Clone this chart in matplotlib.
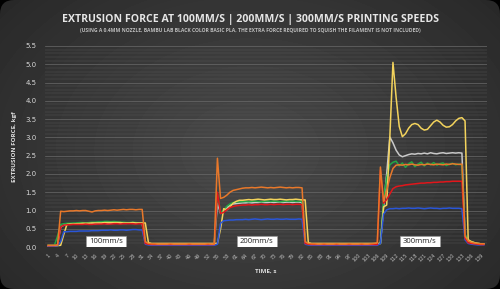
import numpy as np
import matplotlib.pyplot as plt
from matplotlib.patches import FancyBboxPatch, Rectangle

# one sample per second
time_s = list(range(1, 141))

orange = [0.05, 0.05, 0.05, 0.05,
          0.98, 0.97, 0.98, 0.99, 0.99, 1.00, 0.99, 1.00, 1.00, 0.98, 0.96, 0.99, 1.00, 1.00,
          1.01, 1.00, 1.01, 1.02, 1.01, 1.02, 1.03, 1.02, 1.03, 1.03, 1.02, 1.03, 1.03,
          0.15, 0.10, 0.09, 0.09, 0.08, 0.08, 0.08, 0.08, 0.09, 0.08, 0.08, 0.08, 0.08, 0.08,
          0.09, 0.08, 0.08, 0.08, 0.08, 0.08, 0.09, 0.08, 0.08,
          2.43, 1.33, 1.36, 1.42, 1.50, 1.55, 1.57, 1.59, 1.61, 1.62, 1.62, 1.63, 1.62, 1.63,
          1.64, 1.63, 1.62, 1.63, 1.62, 1.63, 1.64, 1.63, 1.62, 1.63, 1.62, 1.63, 1.63, 1.62,
          0.15, 0.10, 0.09, 0.09, 0.08, 0.08, 0.09, 0.08, 0.08, 0.08, 0.09, 0.08, 0.08, 0.08,
          0.09, 0.08, 0.08, 0.08, 0.09, 0.08, 0.08, 0.09, 0.10, 0.12,
          2.19, 1.25, 1.55, 1.90, 2.15, 2.24, 2.25, 2.24, 2.26, 2.25, 2.27, 2.25, 2.24, 2.26,
          2.25, 2.27, 2.26, 2.25, 2.27, 2.26, 2.25, 2.27, 2.26, 2.28, 2.27, 2.26, 2.27,
          0.30, 0.17, 0.13, 0.11, 0.10, 0.09, 0.09]

green = [0.05, 0.05, 0.05, 0.30,
         0.62, 0.64, 0.65, 0.65, 0.66, 0.66, 0.67, 0.67, 0.66, 0.67, 0.68, 0.68, 0.69, 0.69,
         0.70, 0.70, 0.69, 0.70, 0.69, 0.68, 0.68, 0.67, 0.67, 0.68, 0.67, 0.66, 0.66,
         0.12, 0.10, 0.09, 0.09, 0.09, 0.09, 0.09, 0.09, 0.09, 0.09, 0.09, 0.09, 0.09, 0.09,
         0.09, 0.09, 0.09, 0.09, 0.09, 0.09, 0.09, 0.09, 0.09,
         1.45, 0.95, 1.00, 1.12, 1.18, 1.22, 1.23, 1.24, 1.24, 1.25, 1.24, 1.25, 1.26, 1.25,
         1.24, 1.25, 1.26, 1.25, 1.26, 1.25, 1.24, 1.25, 1.26, 1.25, 1.26, 1.25, 1.25, 1.26,
         0.13, 0.10, 0.09, 0.09, 0.09, 0.09, 0.09, 0.09, 0.09, 0.09, 0.09, 0.09, 0.09, 0.09,
         0.09, 0.09, 0.09, 0.09, 0.09, 0.09, 0.09, 0.09, 0.09, 0.09,
         0.10, 1.30, 1.90, 2.25, 2.32, 2.35, 2.22, 2.30, 2.18, 2.28, 2.33, 2.20, 2.27, 2.32,
         2.22, 2.30, 2.25, 2.31, 2.24, 2.28, 2.30, 2.23, 2.27, 2.29, 2.25, 2.27, 2.24,
         0.35, 0.20, 0.15, 0.12, 0.10, 0.09, 0.08]

yellow = [0.03, 0.03, 0.03, 0.04,
          0.05, 0.35, 0.62, 0.63, 0.63, 0.64, 0.64, 0.65, 0.65, 0.65, 0.66, 0.66, 0.66, 0.66,
          0.67, 0.67, 0.67, 0.67, 0.67, 0.67, 0.66, 0.66, 0.66, 0.67, 0.66, 0.66, 0.66,
          0.66, 0.12, 0.10, 0.10, 0.10, 0.10, 0.10, 0.10, 0.10, 0.10, 0.10, 0.10, 0.10, 0.10,
          0.10, 0.10, 0.10, 0.10, 0.10, 0.10, 0.10, 0.10, 0.10,
          0.10, 0.50, 1.05, 1.02, 1.10, 1.20, 1.25, 1.28, 1.28, 1.29, 1.30, 1.29, 1.30, 1.31,
          1.30, 1.29, 1.30, 1.31, 1.30, 1.30, 1.31, 1.30, 1.29, 1.30, 1.30, 1.31, 1.30, 1.29,
          1.29, 0.12, 0.10, 0.10, 0.10, 0.10, 0.10, 0.10, 0.10, 0.10, 0.10, 0.10, 0.10, 0.10,
          0.10, 0.10, 0.10, 0.10, 0.10, 0.10, 0.10, 0.10, 0.10, 0.10,
          0.10, 1.10, 1.15, 3.00, 5.05, 4.10, 3.30, 3.02, 3.10, 3.25, 3.35, 3.38, 3.35, 3.25,
          3.20, 3.22, 3.32, 3.42, 3.47, 3.42, 3.33, 3.28, 3.29, 3.35, 3.45, 3.52, 3.54,
          3.45, 0.20, 0.15, 0.12, 0.10, 0.09, 0.08]

gray = [0.04, 0.04, 0.04, 0.06,
        0.55, 0.60, 0.62, 0.63, 0.63, 0.63, 0.64, 0.64, 0.64, 0.63, 0.64, 0.64, 0.65, 0.65,
        0.65, 0.64, 0.65, 0.65, 0.66, 0.65, 0.65, 0.65, 0.66, 0.65, 0.65, 0.66, 0.65,
        0.12, 0.09, 0.08, 0.08, 0.08, 0.08, 0.08, 0.08, 0.08, 0.08, 0.08, 0.08, 0.08, 0.08,
        0.08, 0.08, 0.08, 0.08, 0.08, 0.08, 0.08, 0.08, 0.08,
        1.20, 0.92, 0.98, 1.08, 1.15, 1.18, 1.19, 1.20, 1.21, 1.21, 1.22, 1.21, 1.22, 1.22,
        1.23, 1.22, 1.22, 1.23, 1.22, 1.23, 1.23, 1.22, 1.23, 1.23, 1.22, 1.23, 1.23, 1.22,
        0.12, 0.09, 0.08, 0.08, 0.08, 0.08, 0.08, 0.08, 0.08, 0.08, 0.08, 0.08, 0.08, 0.08,
        0.08, 0.08, 0.08, 0.08, 0.08, 0.08, 0.08, 0.08, 0.08, 0.08,
        0.10, 1.10, 2.00, 3.01, 2.85, 2.65, 2.52, 2.47, 2.50, 2.53, 2.55, 2.54, 2.56, 2.55,
        2.57, 2.55, 2.58, 2.56, 2.55, 2.57, 2.58, 2.56, 2.57, 2.58, 2.57, 2.58, 2.57,
        0.30, 0.18, 0.14, 0.12, 0.10, 0.09, 0.08]

red = [0.04, 0.04, 0.04, 0.06,
       0.55, 0.60, 0.61, 0.61, 0.62, 0.62, 0.62, 0.62, 0.63, 0.62, 0.62, 0.63, 0.63, 0.63,
       0.64, 0.63, 0.63, 0.64, 0.64, 0.63, 0.64, 0.64, 0.64, 0.64, 0.63, 0.64, 0.64,
       0.10, 0.08, 0.07, 0.07, 0.07, 0.07, 0.07, 0.07, 0.07, 0.07, 0.07, 0.07, 0.07, 0.07,
       0.07, 0.07, 0.07, 0.07, 0.07, 0.07, 0.07, 0.07, 0.07,
       1.50, 0.92, 0.95, 1.02, 1.08, 1.11, 1.13, 1.14, 1.15, 1.15, 1.16, 1.15, 1.16, 1.16,
       1.17, 1.16, 1.16, 1.17, 1.16, 1.17, 1.17, 1.16, 1.17, 1.17, 1.16, 1.17, 1.17, 1.16,
       0.10, 0.08, 0.07, 0.07, 0.07, 0.07, 0.07, 0.07, 0.07, 0.07, 0.07, 0.07, 0.07, 0.07,
       0.07, 0.07, 0.07, 0.07, 0.07, 0.07, 0.07, 0.07, 0.07, 0.07,
       2.10, 1.20, 1.30, 1.45, 1.60, 1.65, 1.67, 1.68, 1.70, 1.71, 1.72, 1.73, 1.74, 1.75,
       1.75, 1.76, 1.76, 1.77, 1.77, 1.78, 1.78, 1.79, 1.79, 1.80, 1.80, 1.80, 1.80,
       0.25, 0.12, 0.10, 0.09, 0.08, 0.07, 0.07]

blue = [0.03, 0.03, 0.03, 0.04,
        0.15, 0.42, 0.42, 0.43, 0.43, 0.43, 0.44, 0.44, 0.44, 0.44, 0.45, 0.45, 0.45, 0.46,
        0.46, 0.46, 0.47, 0.46, 0.46, 0.47, 0.47, 0.46, 0.47, 0.48, 0.48, 0.47, 0.47,
        0.08, 0.06, 0.05, 0.05, 0.05, 0.05, 0.05, 0.05, 0.05, 0.05, 0.05, 0.05, 0.05, 0.05,
        0.05, 0.05, 0.05, 0.05, 0.05, 0.05, 0.05, 0.05, 0.05,
        0.08, 0.65, 0.72, 0.73, 0.74, 0.74, 0.75, 0.75, 0.75, 0.76, 0.75, 0.76, 0.77, 0.76,
        0.75, 0.76, 0.77, 0.76, 0.76, 0.77, 0.76, 0.76, 0.77, 0.76, 0.76, 0.76, 0.77, 0.76,
        0.08, 0.06, 0.05, 0.05, 0.05, 0.05, 0.05, 0.05, 0.05, 0.05, 0.05, 0.05, 0.05, 0.05,
        0.05, 0.05, 0.05, 0.05, 0.05, 0.05, 0.05, 0.05, 0.05, 0.05,
        0.10, 0.90, 1.02, 1.05, 1.05, 1.06, 1.05, 1.06, 1.06, 1.07, 1.06, 1.06, 1.07, 1.06,
        1.05, 1.06, 1.07, 1.06, 1.06, 1.05, 1.06, 1.06, 1.07, 1.06, 1.06, 1.06, 1.05,
        0.20, 0.10, 0.08, 0.07, 0.06, 0.06, 0.06]

speed_labels = ["100mm/s", "200mm/s", "300mm/s"]
speed_label_x = [19.5, 67.5, 119.5]

series = [(gray, "#c9c9c9"), (green, "#22a845"), (yellow, "#f3d35c"),
          (blue, "#2a56d8"), (red, "#e2161b"), (orange, "#e8782a")]

fig = plt.figure(figsize=(5, 2.89), dpi=100, facecolor="black")

# dark rounded backdrop with a soft radial gradient
bg = fig.add_axes([0, 0, 1, 1])
bg.set_xlim(0, 500)
bg.set_ylim(0, 289)
bg.axis("off")
yy, xx = np.mgrid[0:289, 0:500]
r = np.sqrt(((xx - 250) / 320) ** 2 + ((yy - 150) / 230) ** 2)
shade = np.clip(0.29 - 0.13 * r, 0, 1)
im = bg.imshow(shade, cmap="gray", vmin=0, vmax=1, extent=[0, 500, 0, 289],
               aspect="auto", origin="upper")
frame = FancyBboxPatch((0, 0), 500, 289, boxstyle="round,pad=0,rounding_size=14",
                       transform=bg.transData, facecolor="none", edgecolor="none")
bg.add_patch(frame)
im.set_clip_path(frame)

ax = fig.add_axes([0.09, 0.145, 0.884, 0.696])
ax.set_facecolor("none")

for values, color in series:
    ax.plot(time_s, values, color=color, lw=1.1, zorder=3)

ax.set_xlim(0, 141)
ax.set_ylim(0, 5.5)
ax.set_yticks(np.arange(0, 5.51, 0.5))
ax.set_yticks(np.arange(0, 5.51, 0.1), minor=True)
ax.set_xticks(time_s[::3])
ax.grid(axis="y", which="major", color="#6a6a6a", lw=0.5)
ax.grid(axis="y", which="minor", color="#585858", lw=0.3)
ax.tick_params(axis="y", which="both", length=0, labelsize=5, labelcolor="#d8d8d8", pad=6)
ax.tick_params(axis="x", length=0, labelsize=3.5, labelcolor="#bdbdbd", labelrotation=45, pad=4)
for lbl in ax.get_xticklabels():
    lbl.set_ha("right")
    lbl.set_rotation_mode("anchor")
for s in ax.spines.values():
    s.set_visible(False)

for txt, x in zip(speed_labels, speed_label_x):
    ax.add_patch(Rectangle((x - 6.4, 0.0), 12.8, 0.31, facecolor="white",
                           edgecolor="#999999", lw=0.4, zorder=5))
    ax.text(x, 0.155, txt, ha="center", va="center", fontsize=5.5, color="#222222",
            family="Open Sans", zorder=6)

ax.set_ylabel("EXTRUSION FORCE, kgf", fontsize=4.5, color="#dddddd",
              fontweight="bold", family="Open Sans", labelpad=6)
ax.set_xlabel("TIME, s", fontsize=4.5, color="#dddddd", fontweight="bold",
              family="Open Sans", labelpad=4)

fig.text(0.5, 0.934, "EXTRUSION FORCE AT 100MM/S | 200MM/S | 300MM/S PRINTING SPEEDS",
         ha="center", va="center", fontsize=7.6, fontweight="bold", color="#e6e6e6",
         family="Open Sans")
fig.text(0.5, 0.896, "(USING A 0.4MM NOZZLE, BAMBU LAB BLACK COLOR BASIC PLA, THE EXTRA FORCE "
         "REQUIRED TO SQUISH THE FILAMENT IS NOT INCLUDED)",
         ha="center", va="center", fontsize=3.6, fontweight="bold", color="#bdbdbd",
         family="Open Sans")

fig.savefig("out.png", dpi=100, facecolor="black")
